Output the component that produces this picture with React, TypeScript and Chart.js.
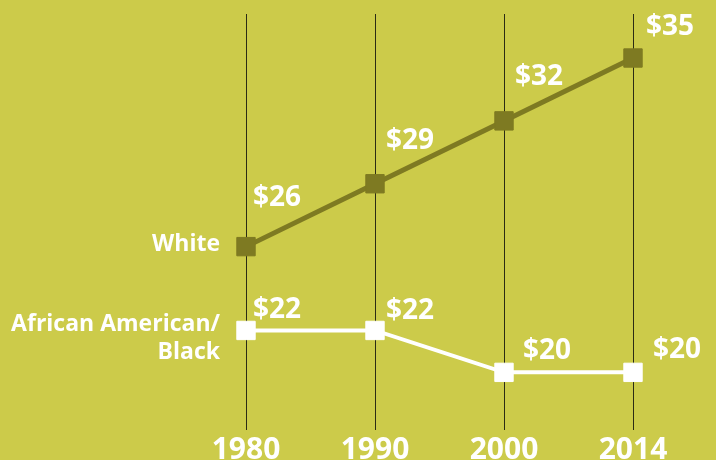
import React, { useEffect, useRef } from "react";
import { Chart, registerables } from "chart.js";

Chart.register(...registerables);

const years = ["1980", "1990", "2000", "2014"];
const whiteValues = [26, 29, 32, 35];
const blackValues = [22, 22, 20, 20];
const seriesNames = [["White"], ["African American/", "Black"]];

const BG = "#CCCB4A";
const OLIVE = "#7E7A22";
const FONT = "'Open Sans', 'DejaVu Sans', sans-serif";

// label placement (dx, dy from point centre)
const labelOffsets = [
  { dx: [7, 11, 11, 13], dy: [-49, -43, -44, -31] },
  { dx: [7, 11, 19, 20], dy: [-20, -19, -21, -22] },
];

const labelPlugin = {
  id: "labels",
  afterDatasetsDraw(chart: any) {
    const ctx = chart.ctx;
    ctx.save();
    ctx.fillStyle = "#ffffff";
    chart.data.datasets.forEach((ds: any, i: number) => {
      const meta = chart.getDatasetMeta(i);
      ctx.font = `700 28px ${FONT}`;
      ctx.textAlign = "left";
      ctx.textBaseline = "middle";
      meta.data.forEach((pt: any, j: number) => {
        const v = ds.data[j];
        ctx.fillText(`$${v}`, pt.x + labelOffsets[i].dx[j], pt.y + labelOffsets[i].dy[j]);
      });
      // series name at left
      const first = meta.data[0];
      const lines = seriesNames[i];
      ctx.font = `700 23px ${FONT}`;
      ctx.textAlign = "right";
      const lh = 28;
      const startY = first.y - 2 - ((lines.length - 1) * lh) / 2 + (lines.length > 1 ? 10 : 0);
      lines.forEach((l, k) => {
        ctx.fillText(l, first.x - 26, startY + k * lh);
      });
    });
    ctx.restore();
  },
};

export default function App() {
  const ref = useRef<HTMLCanvasElement>(null);
  useEffect(() => {
    document.body.style.margin = "0";
    document.body.style.background = BG;
    const chart = new Chart(ref.current!, {
      type: "line",
      data: {
        labels: years,
        datasets: [
          {
            data: whiteValues,
            borderColor: OLIVE,
            backgroundColor: OLIVE,
            borderWidth: 5,
            pointStyle: "rect",
            pointRadius: 13,
            pointBorderWidth: 1,
            pointBorderColor: OLIVE,
            pointBackgroundColor: OLIVE,
            tension: 0,
            clip: false as any,
          },
          {
            data: blackValues,
            borderColor: "#ffffff",
            backgroundColor: "#ffffff",
            borderWidth: 4,
            pointStyle: "rect",
            pointRadius: 13,
            pointBorderWidth: 1,
            pointBorderColor: "#ffffff",
            pointBackgroundColor: "#ffffff",
            tension: 0,
            clip: false as any,
          },
        ],
      },
      options: {
        responsive: false,
        animation: false,
        layout: { padding: { left: 181.5, right: 18.5, top: 14, bottom: 0 } },
        plugins: { legend: { display: false }, tooltip: { enabled: false } },
        scales: {
          x: {
            type: "category",
            offset: true,
            grid: { offset: false, color: "#2b2b14", lineWidth: 1, drawTicks: false },
            border: { display: false },
            ticks: {
              color: "#ffffff",
              font: { family: FONT, size: 30, weight: "bold" },
              padding: 2,
            },
            afterFit: (s: any) => {
              s.height = 30;
            },
          },
          y: {
            display: false,
            min: 17.25,
            max: 37.1,
          },
        },
      },
      plugins: [labelPlugin],
    });
    return () => chart.destroy();
  }, []);
  return (
    <div style={{ width: 716, height: 460, background: BG }}>
      <canvas ref={ref} width={716} height={460} style={{ display: "block" }} />
    </div>
  );
}
